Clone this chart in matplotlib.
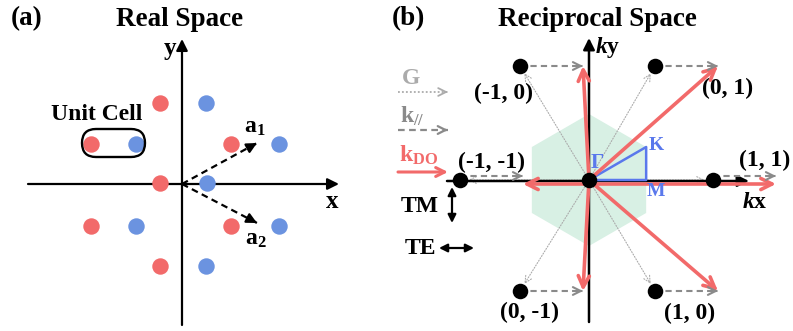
"""Real-space lattice and reciprocal-space diagram."""

import matplotlib
import matplotlib.pyplot as plt
import numpy as np
from matplotlib.patches import FancyBboxPatch, Polygon

matplotlib.use("Agg")

plt.rcParams["font.family"] = ["Liberation Serif", "DejaVu Serif"]
plt.rcParams["font.weight"] = "bold"
plt.rcParams["mathtext.fontset"] = "custom"
plt.rcParams["mathtext.rm"] = "Liberation Serif:bold"
plt.rcParams["mathtext.bf"] = "Liberation Serif:bold"
plt.rcParams["mathtext.it"] = "Liberation Serif:italic:bold"

# ---------------------------------------------------------------------------
# Data (pixel-ish units relative to each panel's origin, y up)
# ---------------------------------------------------------------------------

# (a) real space: two sub-lattices
RED_ATOMS_X = [-91, -22, 49, -22, -91, 49, -22]
RED_ATOMS_Y = [40, 81, 40, 1, -42, -42, -82]
BLUE_ATOMS_X = [-46, 24, 97, 25, -46, 97, 24]
BLUE_ATOMS_Y = [40, 81, 40, 1, -42, -42, -82]
A1 = (75, 41)
A2 = (75, -39)

# (b) reciprocal lattice points G and in-plane k
G_LABELS = ["(-1, 0)", "(0, 1)", "(-1, -1)", "(1, 1)", "(0, -1)", "(1, 0)"]
G_X = [-69, 66, -129, 124, -69, 66]
G_Y = [114, 114, 0, 0, -111, -111]
K_PAR = 63
BZ_RADIUS = 66

RED = "#F26A6A"
BLUE = "#6B93E0"
GRAY = "#8A8A8A"
LIGHT_GRAY = "#ABABAB"
HEX_GREEN = "#D8F0E4"
TRI_BLUE = "#5A78EC"


def arrow(ax, start, end, color, lw, style="->", ls="-", scale=14, z=3):
    """Arrow with a solid head; shaft may be dashed/dotted."""
    start = np.asarray(start, float)
    end = np.asarray(end, float)
    if ls == "-":
        ax.annotate("", xy=end, xytext=start, zorder=z,
                    arrowprops=dict(arrowstyle=style, color=color, lw=lw,
                                    shrinkA=0, shrinkB=0, mutation_scale=scale))
        return
    ax.plot([start[0], end[0]], [start[1], end[1]], ls=ls, color=color,
            lw=lw, zorder=z, solid_capstyle="butt", dash_capstyle="butt")
    d = (end - start) / np.hypot(*(end - start))
    ax.annotate("", xy=end, xytext=end - d * 3, zorder=z,
                arrowprops=dict(arrowstyle=style, color=color, lw=lw,
                                shrinkA=0, shrinkB=0, mutation_scale=scale))


fig = plt.figure(figsize=(7.93, 3.31), dpi=100)
W, H = 793, 331

# ---------------------------------------------------------------------------
# (a) Real space
# ---------------------------------------------------------------------------
ox, oy = 182, 184
ax_a = fig.add_axes([0, 0, 395 / W, 1])
ax_a.set_xlim(-ox, 395 - ox)
ax_a.set_ylim(-(H - oy), oy)
ax_a.axis("off")

arrow(ax_a, (-154, 0), (157, 0), "black", 1.6, style="-|>", scale=17, z=2)
arrow(ax_a, (0, -141), (0, 145), "black", 1.6, style="-|>", scale=17, z=2)

ax_a.scatter(RED_ATOMS_X, RED_ATOMS_Y, s=140, color=RED, lw=0, zorder=3)
ax_a.scatter(BLUE_ATOMS_X, BLUE_ATOMS_Y, s=140, color=BLUE, lw=0, zorder=3)

for vec in (A1, A2):
    arrow(ax_a, (0, 0), vec, "black", 1.6, style="-|>", ls=(0, (3, 2)), scale=15, z=4)

cell = FancyBboxPatch((-93, 34), 49, 14, boxstyle="round,pad=0,rounding_size=14",
                      fc="none", ec="black", lw=1.7, zorder=4)
cell.set_boxstyle("round", pad=7, rounding_size=14)
ax_a.add_patch(cell)

ax_a.text(-85, 70, "Unit Cell", ha="center", va="center", fontsize=17)
ax_a.text(73, 56, r"$\mathrm{a}_\mathrm{1}$", ha="center", va="center", fontsize=17)
ax_a.text(74, -55, r"$\mathrm{a}_\mathrm{2}$", ha="center", va="center", fontsize=17)
ax_a.text(150, -18, "x", ha="center", va="center", fontsize=18)
ax_a.text(-12, 136, "y", ha="center", va="center", fontsize=18)

# ---------------------------------------------------------------------------
# (b) Reciprocal space
# ---------------------------------------------------------------------------
bx, by = 589, 180
ax_b = fig.add_axes([395 / W, 0, (W - 395) / W, 1])
ax_b.set_xlim(395 - bx, W - bx)
ax_b.set_ylim(-(H - by), by)
ax_b.axis("off")

ang = np.deg2rad(90 + 60 * np.arange(6))
hexagon = Polygon(np.c_[BZ_RADIUS * np.cos(ang), BZ_RADIUS * np.sin(ang)],
                  closed=True, fc=HEX_GREEN, ec="none", zorder=0)
ax_b.add_patch(hexagon)

# G vectors (dotted)
for gx, gy in zip(G_X, G_Y):
    ax_b.annotate("", xy=(gx, gy), xytext=(0, 0), zorder=1,
                  arrowprops=dict(arrowstyle="->", color=LIGHT_GRAY, lw=0.8,
                                  ls=(0, (1, 1.5)), shrinkA=0, shrinkB=6,
                                  mutation_scale=12))

# axes
arrow(ax_b, (-142, -1), (160, -1), "black", 1.8, style="-|>", scale=17, z=2)
arrow(ax_b, (0, -142), (0, 142), "black", 1.8, style="-|>", scale=17, z=2)

# Brillouin zone triangle Gamma-K-M
kx_, ky_ = BZ_RADIUS * np.cos(np.pi / 6), BZ_RADIUS * np.sin(np.pi / 6)
ax_b.plot([0, kx_, kx_, 0], [0, ky_, 0, 0], color=TRI_BLUE, lw=1.8, zorder=2.5)

# k_DO (red) and k_par (dashed) arrows
for gx, gy in zip(G_X, G_Y):
    dy_red = -4 if gy == 0 else 0
    dy_par = 4 if gy == 0 else 0
    arrow(ax_b, (0, dy_red), (gx + K_PAR, gy + dy_red), RED, 2.6, scale=20, z=3)
    arrow(ax_b, (gx, gy + dy_par), (gx + K_PAR, gy + dy_par), GRAY, 1.5,
          ls=(0, (3, 2)), scale=14, z=4)

ax_b.scatter(G_X + [0], G_Y + [0], s=125, color="black", lw=0, zorder=5)

label_pos = [(-86, 87), (139, 92), (-97, 18), (176, 20), (-59, -132), (101, -133)]
for txt, (lx, ly) in zip(G_LABELS, label_pos):
    ax_b.text(lx, ly, txt, ha="center", va="center", fontsize=17)

ax_b.text(8, 17, "Γ", ha="center", va="center", fontsize=15, color=TRI_BLUE)
ax_b.text(67, 35, "K", ha="center", va="center", fontsize=14, color=TRI_BLUE)
ax_b.text(67, -12, "M", ha="center", va="center", fontsize=14, color=TRI_BLUE)
ax_b.text(19, 133, r"$k$y", ha="center", va="center", fontsize=17)
ax_b.text(166, -22, r"$k$x", ha="center", va="center", fontsize=17)

# legend
ax_b.text(-178, 102, "G", ha="center", va="center", fontsize=17, color=LIGHT_GRAY)
arrow(ax_b, (-191, 88), (-141, 88), LIGHT_GRAY, 1.3, ls=(0, (1, 1.2)), scale=14)
ax_b.text(-177, 64, r"$\mathrm{k}_{//}$", ha="center", va="center", fontsize=17,
          color=GRAY)
arrow(ax_b, (-191, 50), (-141, 50), GRAY, 1.6, ls=(0, (3, 2)), scale=14)
ax_b.text(-170, 25, r"$\mathrm{k}_\mathrm{DO}$", ha="center", va="center",
          fontsize=17, color=RED)
arrow(ax_b, (-191, 8), (-141, 8), RED, 2.2, scale=16)

ax_b.text(-169, -26, "TM", ha="center", va="center", fontsize=17)
arrow(ax_b, (-137, -7), (-137, -43), "black", 1.6, style="<|-|>", scale=12)
ax_b.text(-169, -68, "TE", ha="center", va="center", fontsize=17)
arrow(ax_b, (-150, -68), (-115, -68), "black", 1.6, style="<|-|>", scale=12)

# titles
fig.text(27 / W, 1 - 19 / H, "(a)", ha="center", va="center", fontsize=19.5)
fig.text(180 / W, 1 - 19 / H, "Real Space", ha="center", va="center", fontsize=19.5)
fig.text(408 / W, 1 - 19 / H, "(b)", ha="center", va="center", fontsize=19.5)
fig.text(597 / W, 1 - 19 / H, "Reciprocal Space", ha="center", va="center",
         fontsize=19.5)

fig.savefig("out.png", dpi=100)
plt.close(fig)
